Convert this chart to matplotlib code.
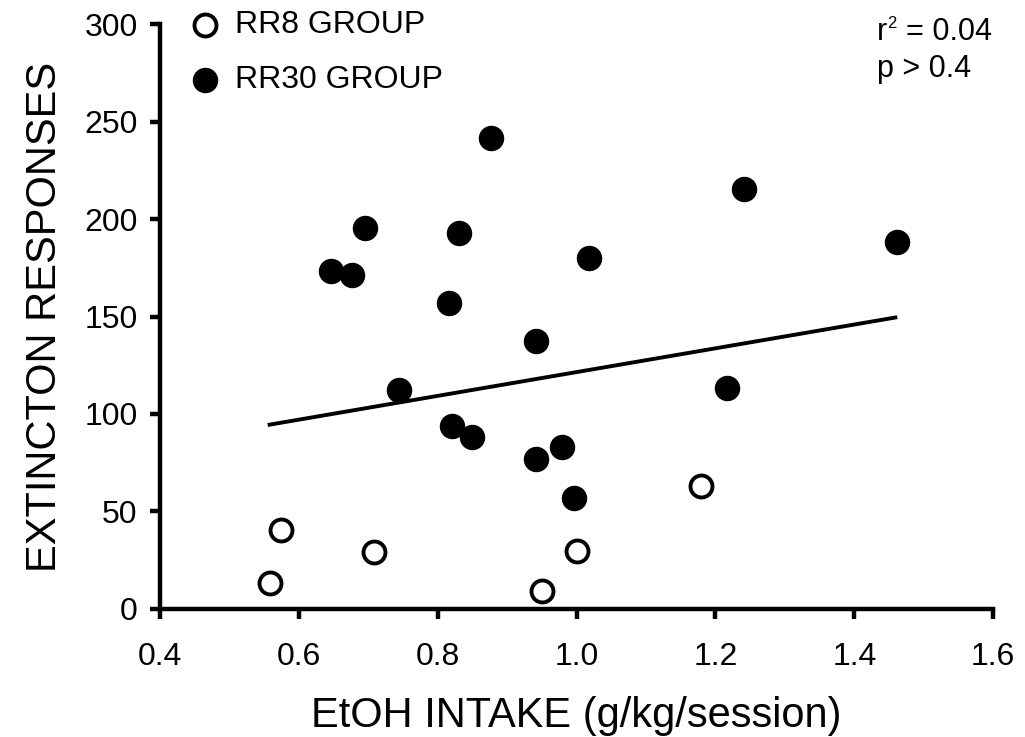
import numpy as np
import matplotlib.pyplot as plt

plt.rcParams['font.family'] = ['Liberation Sans', 'DejaVu Sans']

# RR30 group (filled)
rr30_x = [0.877, 1.241, 1.462, 0.695, 0.831, 0.647, 0.677, 1.018, 0.817, 0.942,
          0.745, 1.216, 0.820, 0.850, 0.979, 0.942, 0.996]
rr30_y = [241.4, 215.7, 188.5, 195.2, 193.1, 173.6, 171.5, 180.3, 157.2, 137.6,
          112.5, 113.5, 94.0, 88.3, 83.2, 77.0, 57.0]
# RR8 group (open)
rr8_x = [0.558, 0.574, 0.708, 0.950, 1.001, 1.179]
rr8_y = [13.4, 40.6, 29.3, 9.2, 29.8, 63.2]
# regression line ends
line_x = [0.558, 1.459]
line_y = [94.5, 149.5]

fig = plt.figure(figsize=(10.25, 7.37), dpi=100)
ax = fig.add_axes([0.156, 0.174, 0.813, 0.793])

ax.plot(line_x, line_y, color='black', lw=2.8, zorder=2)
ax.scatter(rr30_x, rr30_y, s=300, color='black', zorder=3)
ax.scatter(rr8_x, rr8_y, s=250, facecolor='white', edgecolor='black', linewidths=2.8, zorder=3)

ax.set_xlim(0.4, 1.6)
ax.set_ylim(0, 300)
ax.set_xticks(np.arange(0.4, 1.61, 0.2))
ax.set_xticklabels(['0.4', '0.6', '0.8', '1.0', '1.2', '1.4', '1.6'])
ax.set_yticks(range(0, 301, 50))
ax.spines['top'].set_visible(False)
ax.spines['right'].set_visible(False)
ax.spines['left'].set_linewidth(3.2)
ax.spines['bottom'].set_linewidth(3.2)
ax.tick_params(direction='out', length=7, width=3.2, labelsize=23, pad=9)
ax.tick_params(axis='x', pad=17)
ax.set_xlabel('EtOH INTAKE (g/kg/session)', fontsize=30, labelpad=17)
ax.set_ylabel('EXTINCTON RESPONSES', fontsize=30, labelpad=14)

# legend drawn with markers
ax.scatter([0.465], [299.4], s=250, facecolor='white', edgecolor='black', linewidths=2.8, clip_on=False)
ax.scatter([0.465], [271.5], s=300, color='black', clip_on=False)
ax.text(0.508, 299.4, 'RR8 GROUP', fontsize=23, va='center')
ax.text(0.508, 271.5, 'RR30 GROUP', fontsize=23, va='center')

ax.text(1.433, 296, 'r', fontsize=22, va='center')
ax.text(1.447, 300.5, '2', fontsize=12, va='center')
ax.text(1.474, 296, '= 0.04', fontsize=22, va='center')
ax.text(1.433, 277, 'p > 0.4', fontsize=22, va='center')

fig.savefig('out.png', dpi=100)
